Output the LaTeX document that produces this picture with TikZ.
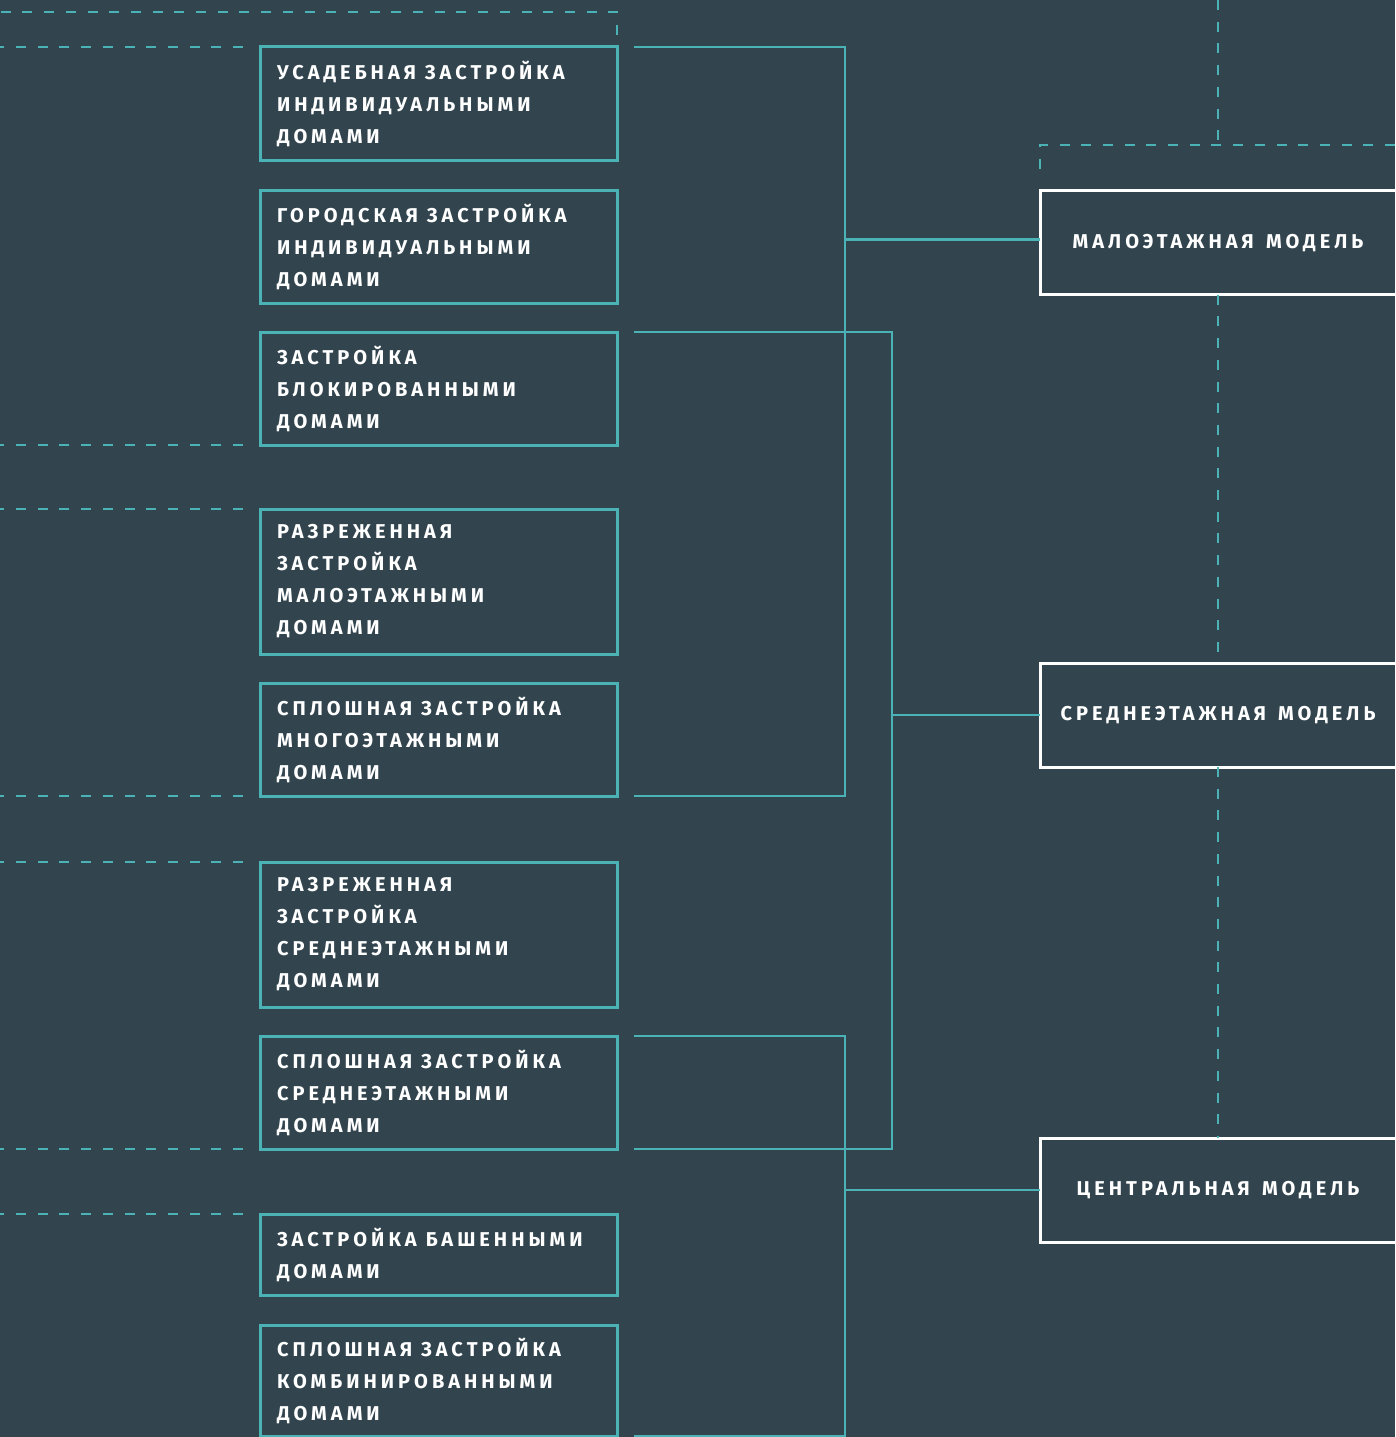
\documentclass[tikz,border=0pt]{standalone}
\usepackage{fontspec}
\usepackage{tikz}
\usepackage{xcolor}
\newfontfamily\capsfont[LetterSpace=20,WordSpace=1.4]{Fira Sans}
\definecolor{bgc}{HTML}{32454F}
\definecolor{tealc}{HTML}{4BB3B6}
\usetikzlibrary{calc}

\begin{document}
\begin{tikzpicture}[x=1pt,y=-1pt,
  house/.style={draw=tealc, line width=3pt, outer sep=0pt, inner xsep=17pt, inner ysep=0pt,
    text width=323pt, align=left, anchor=north west, minimum height=#1, text=white,
    font=\capsfont\bfseries\fontsize{20}{32}\selectfont,
    execute at begin node={\spaceskip=0.45em\relax}},
  model/.style={draw=white, line width=3pt, outer sep=0pt, anchor=west,
    minimum width=356pt, minimum height=104pt, text=white,
    font=\capsfont\bfseries\fontsize{20}{32}\selectfont},
  link/.style={draw=tealc, line width=2.8pt, line join=miter},
  dashlead/.style={draw=tealc, line width=2.6pt, dash pattern=on 10pt off 11.7pt}]
  \fill[bgc] (0,0) rectangle (1395,1437);
  \useasboundingbox (0,0) rectangle (1395,1437);
  \clip (0,0) rectangle (1395,1437);
  \coordinate (edge) at (0,0);
  % types of housing
  \foreach \t/\y/\h [count=\i] in {
    {УСАДЕБНАЯ ЗАСТРОЙКА\\ИНДИВИДУАЛЬНЫМИ\\ДОМАМИ}/47/113,
    {ГОРОДСКАЯ ЗАСТРОЙКА\\ИНДИВИДУАЛЬНЫМИ\\ДОМАМИ}/190/113,
    {ЗАСТРОЙКА\\БЛОКИРОВАННЫМИ\\ДОМАМИ}/332/113,
    {РАЗРЕЖЕННАЯ\\ЗАСТРОЙКА\\МАЛОЭТАЖНЫМИ\\ДОМАМИ}/509/145,
    {СПЛОШНАЯ ЗАСТРОЙКА\\МНОГОЭТАЖНЫМИ\\ДОМАМИ}/683/113,
    {РАЗРЕЖЕННАЯ\\ЗАСТРОЙКА\\СРЕДНЕЭТАЖНЫМИ\\ДОМАМИ}/862/145,
    {СПЛОШНАЯ ЗАСТРОЙКА\\СРЕДНЕЭТАЖНЫМИ\\ДОМАМИ}/1036/113,
    {ЗАСТРОЙКА БАШЕННЫМИ\\ДОМАМИ}/1214/81,
    {СПЛОШНАЯ ЗАСТРОЙКА\\КОМБИНИРОВАННЫМИ\\ДОМАМИ}/1325/111} {
    \node[house=\h pt] (b\i) at (260,\y) {\t};
  }
  % models
  \node[model] (mA) at (1040,242.7) {МАЛОЭТАЖНАЯ МОДЕЛЬ};
  \node[model] (mB) at (1040,715) {СРЕДНЕЭТАЖНАЯ МОДЕЛЬ};
  \node[model] (mC) at (1040,1190) {ЦЕНТРАЛЬНАЯ МОДЕЛЬ};
  % brackets
  \coordinate (k1) at (845,0);
  \coordinate (k2) at (892,0);
  \draw[link] ([xshift=17pt]b1.north east) -| (k1 |- b5.south east) -- ([xshift=17pt]b5.south east);
  \draw[link] ([yshift=3pt]k1 |- mA.west) -- ([yshift=3pt]mA.west);
  \draw[link] ([xshift=17pt]b3.north east) -| (k2 |- b7.south east) -- ([xshift=17pt]b7.south east);
  \draw[link] (k2 |- mB.west) -- (mB.west);
  \draw[link] ([xshift=17pt]b7.north east) -| (k1 |- b9.south east) -- ([xshift=17pt]b9.south east);
  \draw[link] (k1 |- mC.west) -- (mC.west);
  % dashed leads
  \draw[dashlead] ([yshift=12pt]b1.north east) |- (0,12);
  \foreach \a in {b1.north west, b3.south west, b4.north west, b5.south west,
    b6.north west, b7.south west, b8.north west}
    \draw[dashlead] ([xshift=-17pt]\a) -- (edge |- \a);
  \draw[dashlead] (mA.north |- edge) -- ([yshift=45pt]mA.north);
  \draw[dashlead] (1395,145) -| ([yshift=22pt]mA.north west);
  \draw[dashlead] (mA.south) -- (mB.north);
  \draw[dashlead] (mB.south) -- (mC.north);
\end{tikzpicture}
\end{document}
